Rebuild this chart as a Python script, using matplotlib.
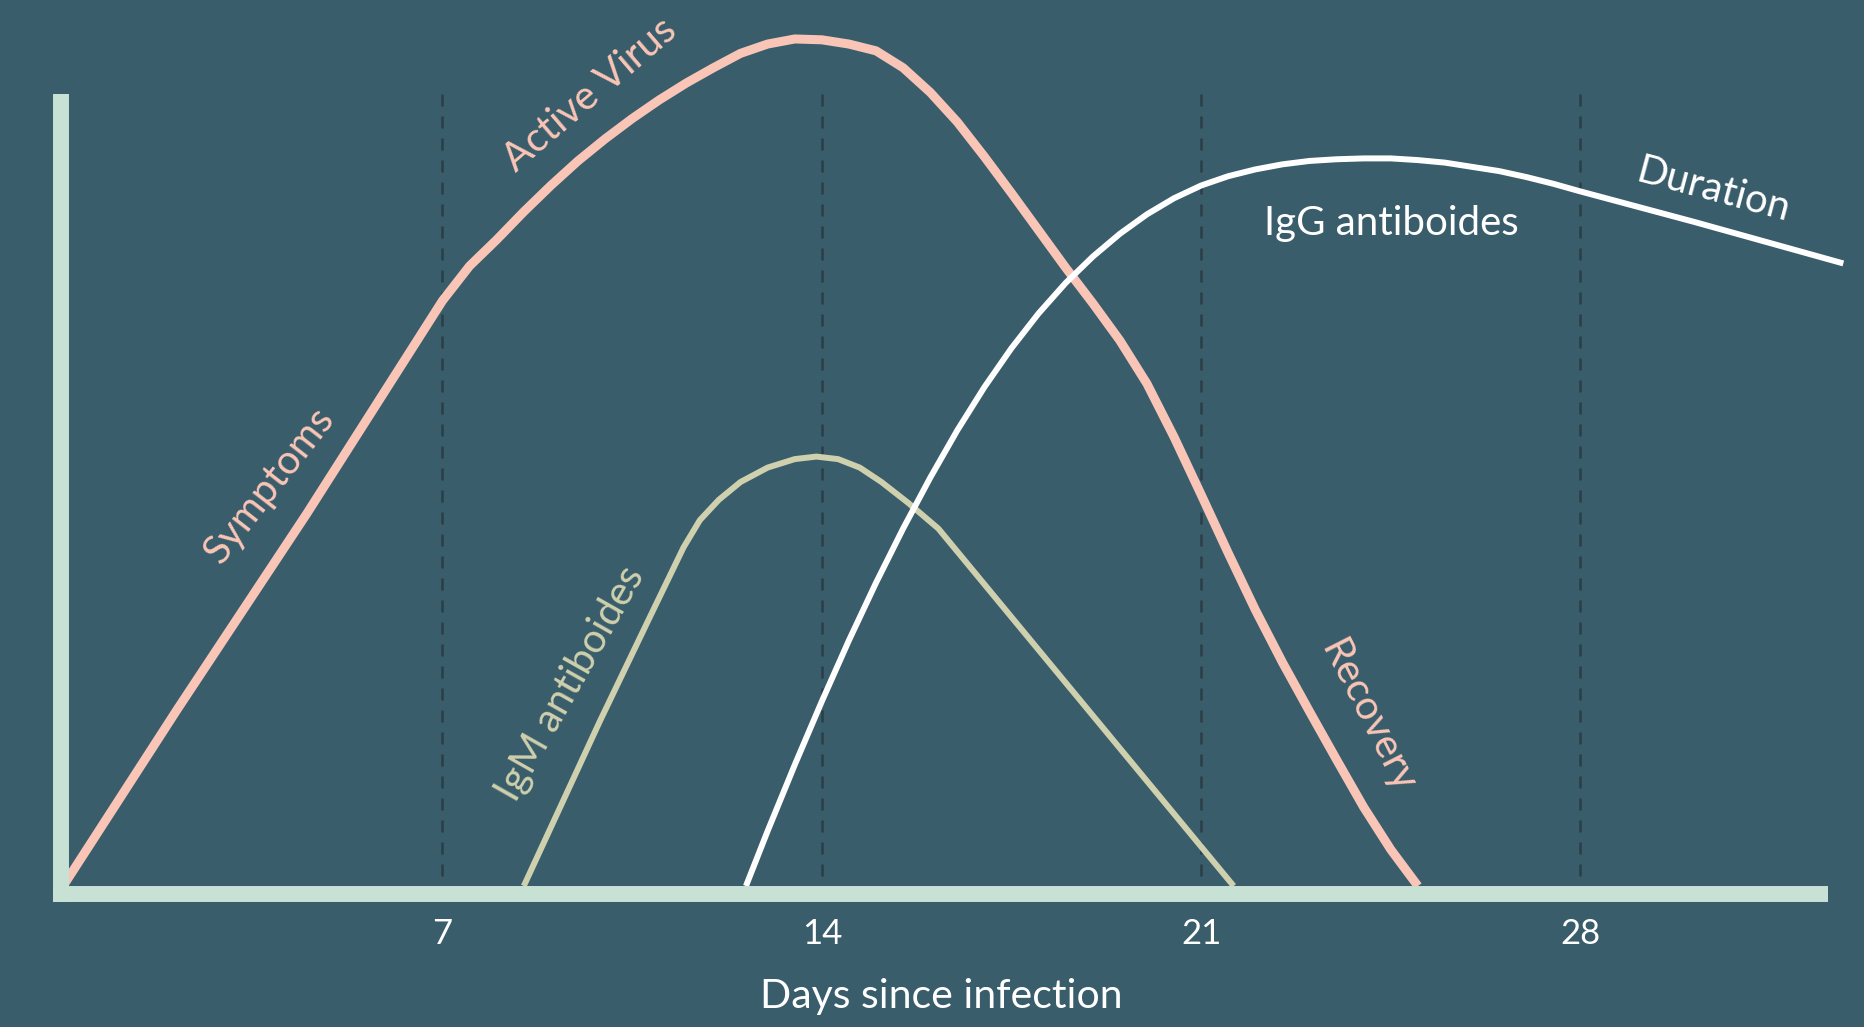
import matplotlib.pyplot as plt

# Values (days since infection, relative level 0-100)
virus_days = [0.0, 2.1, 4.5, 7.0, 7.5, 8.0, 8.5, 9.0, 9.5, 10.0, 10.5, 11.0, 11.5, 12.0,
              12.5, 13.0, 13.5, 14.0, 14.5, 15.0, 15.5, 16.0, 16.5, 17.0, 17.5, 18.0, 18.5,
              19.0, 19.5, 20.0, 20.5, 21.0, 21.5, 22.0, 22.5, 23.0, 23.5, 24.0, 24.5, 25.0]
virus_level = [0.0, 20.8, 44.0, 69.1, 73.2, 76.3, 79.6, 82.7, 85.6, 88.2, 90.6, 92.8, 94.8,
               96.6, 98.3, 99.4, 100.0, 99.9, 99.4, 98.6, 96.6, 93.7, 90.2, 86.1, 81.8, 77.4,
               73.0, 68.8, 64.4, 59.3, 53.0, 46.2, 39.3, 32.6, 26.4, 20.6, 14.9, 9.3, 4.3, 0.0]

igm_days = [8.5, 9.9, 10.8, 11.45, 11.75, 12.1, 12.5, 13.0, 13.5, 13.9, 14.3, 14.7, 15.1,
            15.6, 16.15, 21.6]
igm_level = [0.0, 19.4, 31.4, 40.0, 43.2, 45.6, 47.7, 49.4, 50.4, 50.7, 50.4, 49.4, 47.7,
             45.2, 42.2, 0.0]

igg_days = [12.6, 13.0, 13.5, 14.0, 14.5, 15.0, 15.5, 16.0, 16.5, 17.0, 17.5, 18.0, 18.5,
            19.0, 19.5, 20.0, 20.5, 21.0, 21.5, 22.0, 22.5, 23.0, 23.5, 24.0, 24.5, 25.0,
            25.5, 26.0, 26.5, 27.0, 27.5, 28.0, 30.1, 32.85]
igg_level = [0.0, 6.5, 14.3, 21.8, 29.0, 35.8, 42.2, 48.2, 53.8, 58.9, 63.5, 67.6, 71.2,
             74.3, 77.0, 79.3, 81.2, 82.7, 83.8, 84.6, 85.2, 85.6, 85.8, 85.9, 85.9, 85.7,
             85.4, 84.9, 84.4, 83.7, 82.9, 82.0, 78.4, 73.5]

tick_days = [7, 14, 21, 28]
tick_labels = ['7', '14', '21', '28']

BG = '#3a5d6b'
PINK = '#f9c5b6'
SAGE = '#cfd0ad'
BAR = '#c7e1d5'
GRID = '#2a3e45'

plt.rcParams['font.family'] = ['Lato', 'DejaVu Sans']

fig = plt.figure(figsize=(18.65, 10.27), dpi=100, facecolor=BG)
ax = fig.add_axes([0.0327, 0.1295, 0.9673, 0.8705])
ax.set_facecolor(BG)
ax.set_xlim(-0.04, 33.25)
ax.set_ylim(-0.94, 104.6)
for s in ax.spines.values():
    s.set_visible(False)

# dashed weekly guides (drawn top-down so the pattern starts with a dash at the top)
ax.vlines(tick_days, 93.5, 0, colors=GRID, linestyles=[(0, (4.8, 4.0))], linewidth=1.8, zorder=1)

# curves
ax.plot(virus_days, virus_level, color=PINK, lw=6.5, solid_capstyle='butt',
        solid_joinstyle='round', zorder=3)
ax.plot(igm_days, igm_level, color=SAGE, lw=4.3, solid_capstyle='butt',
        solid_joinstyle='round', zorder=3)
ax.plot(igg_days, igg_level, color='white', lw=4.3, solid_capstyle='butt',
        solid_joinstyle='round', zorder=3)

# thick axis bars
ax.plot([-0.04, -0.04], [-1.89, 93.5], color=BAR, lw=11.5, solid_capstyle='butt',
        clip_on=False, zorder=5)
ax.plot([-0.185, 32.56], [-0.94, -0.94], color=BAR, lw=11.5, solid_capstyle='butt',
        clip_on=False, zorder=5)

# curve annotations
lab = dict(ha='center', va='center', rotation_mode='anchor', fontsize=29)
ax.text(3.8, 47.3, 'Symptoms', rotation=52, color=PINK, **lab)
ax.text(9.72, 93.4, 'Active Virus', rotation=40.5, color=PINK, **lab)
ax.text(9.37, 23.9, 'IgM antiboides', rotation=60.5, color=SAGE, **lab)
ax.text(24.51, 78.2, 'IgG antiboides', rotation=0, color='white', **lab)
ax.text(30.45, 82.1, 'Duration', rotation=-15, color='white', **lab)
ax.text(24.07, 20.0, 'Recovery', rotation=-63, color=PINK, **lab)

ax.set_xticks(tick_days, tick_labels)
ax.set_yticks([])
ax.tick_params(axis='x', length=0, pad=17, labelsize=25, labelcolor='white')

ax.set_xlabel('Days since infection', fontsize=29.5, color='white')
ax.xaxis.set_label_coords(0.488, -0.094)

plt.savefig('out.png', dpi=100, facecolor=BG)
